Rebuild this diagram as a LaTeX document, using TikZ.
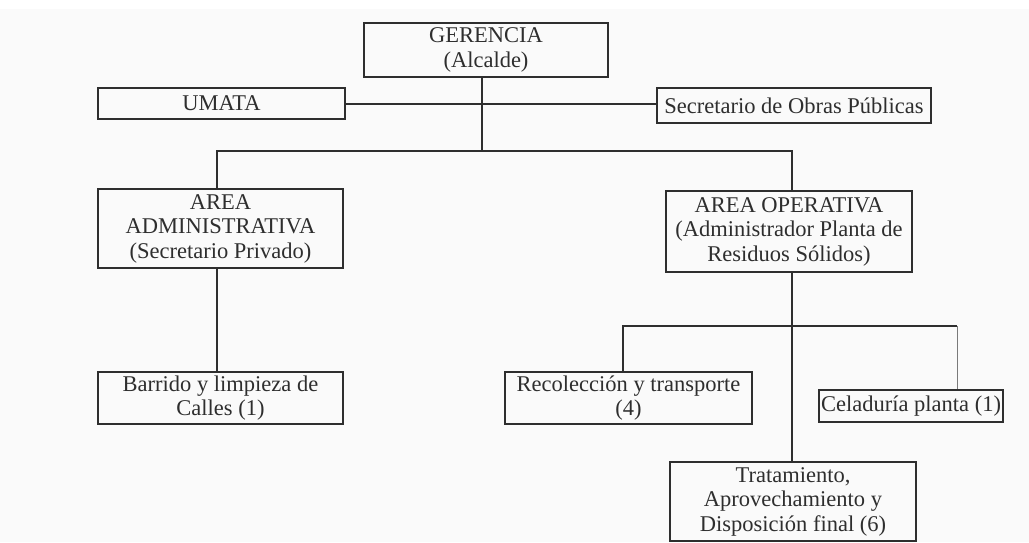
\documentclass[tikz,border=0pt]{standalone}
\usepackage{fontspec}
\setmainfont{Liberation Serif}
\definecolor{ink}{HTML}{2E2E2E}
\definecolor{bg}{HTML}{FAFAFA}
\definecolor{thin}{HTML}{7A7A7A}
\begin{document}
\begin{tikzpicture}[x=1pt,y=-1pt,
  box/.style={draw=ink, line width=1.6pt, rectangle, inner sep=0pt, align=center,
    text=ink, font=\fontsize{22.5}{24.5}\selectfont},
  link/.style={draw=ink, line width=1.6pt},
  thinlink/.style={draw=thin, line width=0.9pt}]
\fill[white] (0,0) rectangle (1029,542);
\fill[bg] (0,9) rectangle (1029,542);
\useasboundingbox (0,0) rectangle (1029,542);

\node[box, minimum width=244, minimum height=54] (ger) at (486,50) {GERENCIA\\(Alcalde)};
\node[box, minimum width=247, minimum height=31] (umata) at (221.5,103.5) {UMATA};
\node[box, minimum width=274, minimum height=35] (sec) at (794,105.5) {Secretario de Obras Públicas};
\node[box, minimum width=245, minimum height=79] (adm) at (220.5,228.5) {AREA\\ADMINISTRATIVA\\(Secretario Privado)};
\node[box, minimum width=246, minimum height=81] (ope) at (789,231.5) {AREA OPERATIVA\\(Administrador Planta de\\Residuos Sólidos)};
\node[box, minimum width=245, minimum height=52] (bar) at (220.5,398) {Barrido y limpieza de\\Calles (1)};
\node[box, minimum width=247, minimum height=52] (rec) at (628.5,398) {Recolección y transporte\\(4)};
\node[box, minimum width=184, minimum height=32] (cel) at (911,406) {Celaduría planta (1)};
\node[box, minimum width=246, minimum height=79] (tra) at (793,501.5) {Tratamiento,\\Aprovechamiento y\\Disposición final (6)};

\coordinate (hline) at (482,104);
\coordinate (trunk) at (482,151);
\coordinate (lbar) at (217,151);
\coordinate (rbar) at (792,151);
\coordinate (sub) at (792,326);
\coordinate (subl) at (623,326);
\coordinate (subr) at (957,326);

% top level
\draw[link] (umata.east |- hline) -- (sec.west |- hline);
\draw[link] (ger.south -| trunk) -- (trunk);
\draw[link] (adm.north -| lbar) -- (lbar) -- (rbar) -- (ope.north -| rbar);
\draw[link] (adm.south -| lbar) -- (bar.north -| lbar);
% operative branch
\draw[link] (ope.south -| sub) -- (tra.north -| sub);
\draw[link] (rec.north -| subl) -- (subl) -- (sub);
\draw[link] (sub) -- (subr);
\draw[thinlink] (subr) -- (cel.north -| subr);
\end{tikzpicture}
\end{document}
